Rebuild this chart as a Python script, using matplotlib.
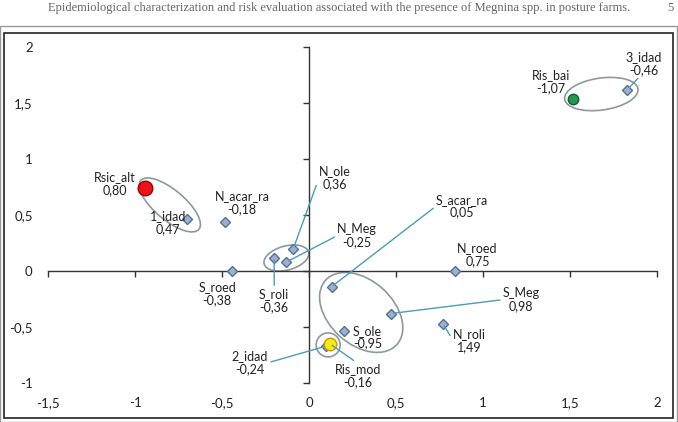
import matplotlib
matplotlib.use("Agg")
import matplotlib.pyplot as plt
from matplotlib.patches import Ellipse, Rectangle
from matplotlib.transforms import ScaledTranslation
from matplotlib.ticker import FuncFormatter, MultipleLocator

# points (dimension 1, dimension 2)
names = ["Rsic_alt", "1_idad", "N_acar_ra", "S_roed", "S_roli", "N_Meg", "N_ole",
         "S_acar_ra", "S_Meg", "S_ole", "2_idad", "Ris_mod", "N_roed", "N_roli",
         "Ris_bai", "3_idad"]
dim1 = [-0.94, -0.70, -0.48, -0.44, -0.20, -0.13, -0.09,
        0.13, 0.47, 0.20, 0.10, 0.12, 0.84, 0.77,
        1.52, 1.83]
dim2 = [0.74, 0.46, 0.44, 0.00, 0.12, 0.08, 0.20,
        -0.14, -0.38, -0.54, -0.67, -0.65, 0.00, -0.47,
        1.54, 1.62]
values = ["0,80", "0,47", "-0,18", "-0,38", "-0,36", "-0,25", "0,36",
          "0,05", "0,98", "-0,95", "-0,24", "-0,16", "0,75", "1,49",
          "-1,07", "-0,46"]
risk_colors = {"Rsic_alt": ("#e8141a", "#a00000", 10.5),
               "Ris_bai": ("#1f9a4e", "#0b5e2b", 7.5),
               "Ris_mod": ("#f4ee10", "#e08a10", 9)}

# label placement (offset in points) and leader anchor on the label
label_off = {"Rsic_alt": (-22, 3), "1_idad": (-14, -2), "N_acar_ra": (12, 14),
             "S_roed": (-11, -16), "S_roli": (0, -31), "N_Meg": (51, 19),
             "N_ole": (30, 51), "S_acar_ra": (94, 58), "S_Meg": (94, 10),
             "S_ole": (17, -4), "2_idad": (-55, -12), "Ris_mod": (20, -23),
             "N_roed": (16, 12), "N_roli": (19, -12), "Ris_bai": (-16, 12),
             "3_idad": (12, 19)}
leaders = {"S_roli": (0.5, 1), "N_Meg": (0, 0.5), "N_ole": (0, 0.5),
           "S_acar_ra": (0, 0.5), "S_Meg": (0, 0.5), "2_idad": (1, 0.5),
           "Ris_mod": (0.5, 1), "N_roli": (0, 0.5), "3_idad": (0.4, 0)}

# groups circled on the map: centre (data), width, height (inches), angle
groups = [((-0.80, 0.59), 0.76, 0.30, -40),
          ((-0.13, 0.116), 0.46, 0.24, 15),
          ((0.30, -0.37), 0.96, 0.64, -42),
          ((0.11, -0.66), 0.24, 0.24, 0),
          ((1.68, 1.58), 0.74, 0.32, 8)]

fig = plt.figure(figsize=(6.78, 4.22), dpi=100)
plt.rcParams["font.family"] = ["Lato", "DejaVu Sans"]

# page header
fig.text(0.5, 1 - 2 / 422, "Epidemiological characterization and risk evaluation associated "
         "with the presence of Megnina spp. in posture farms.",
         ha="center", va="top", fontsize=9, color="#666666", family="Liberation Serif")
fig.text(0.993, 1 - 2 / 422, "5", ha="right", va="top", fontsize=9,
         color="#666666", family="Liberation Serif")

# frames
fig.patches.append(Rectangle((0, 0.5 / 422), 677 / 678, (421 - 25.5) / 422,
                             transform=fig.transFigure, fill=False, ec="#9a9a9a", lw=1))
fig.patches.append(Rectangle((4 / 678, 4 / 422), 669 / 678, (418 - 33) / 422,
                             transform=fig.transFigure, fill=False, ec="#222222", lw=1.2))

pos = [48 / 678, 39 / 422, 609 / 678, 336 / 422]
lab = fig.add_axes(pos, frameon=False)
ax = fig.add_axes(pos, sharex=lab, sharey=lab)
ax.patch.set_alpha(0)

ax.set_xlim(-1.5, 2)
ax.set_ylim(-1, 2)
ax.xaxis.set_major_locator(MultipleLocator(0.5))
ax.yaxis.set_major_locator(MultipleLocator(0.5))
fmt = FuncFormatter(lambda v, p: f"{v:g}".replace(".", ","))
ax.xaxis.set_major_formatter(fmt)
ax.yaxis.set_major_formatter(fmt)

for s in ["top", "right"]:
    ax.spines[s].set_visible(False)
ax.spines["left"].set_position(("data", 0))
ax.spines["bottom"].set_position(("data", 0))
for s in ["left", "bottom"]:
    ax.spines[s].set_color("#333333")
    ax.spines[s].set_linewidth(1)
ax.tick_params(labelleft=False, labelbottom=False, direction="out", length=4,
               width=1, color="#333333")
lab.tick_params(length=0, labelsize=9.5, labelcolor="#222222")
lab.tick_params(axis="x", pad=10)
lab.tick_params(axis="y", pad=11)

# group ellipses
for (cx, cy), w, h, ang in groups:
    tr = fig.dpi_scale_trans + ScaledTranslation(cx, cy, ax.transData)
    ax.add_patch(Ellipse((0, 0), w, h, angle=ang, transform=tr, fill=False,
                         ec="#8c9a9a", lw=1.2, zorder=2))

# points
for n, x, y in zip(names, dim1, dim2):
    if n in risk_colors:
        fc, ec, ms = risk_colors[n]
        ax.plot(x, y, "o", ms=ms, mfc=fc, mec=ec, mew=1, zorder=5)
    else:
        ax.plot(x, y, "D", ms=5.5, mfc="#9cb0d0", mec="#566f96", mew=1, zorder=4)

# labels with leader lines
for n, x, y, v in zip(names, dim1, dim2, values):
    arrow = None
    if n in leaders:
        arrow = dict(arrowstyle="-", color="#4b9bbf", lw=1, shrinkA=0, shrinkB=2,
                     relpos=leaders[n])
    ax.annotate(f"{n}\n{v}", xy=(x, y), xytext=label_off[n], textcoords="offset points",
                ha="center", va="center", fontsize=9, color="#222222",
                linespacing=1.1, arrowprops=arrow, zorder=6)

fig.savefig("out.png", dpi=100)
